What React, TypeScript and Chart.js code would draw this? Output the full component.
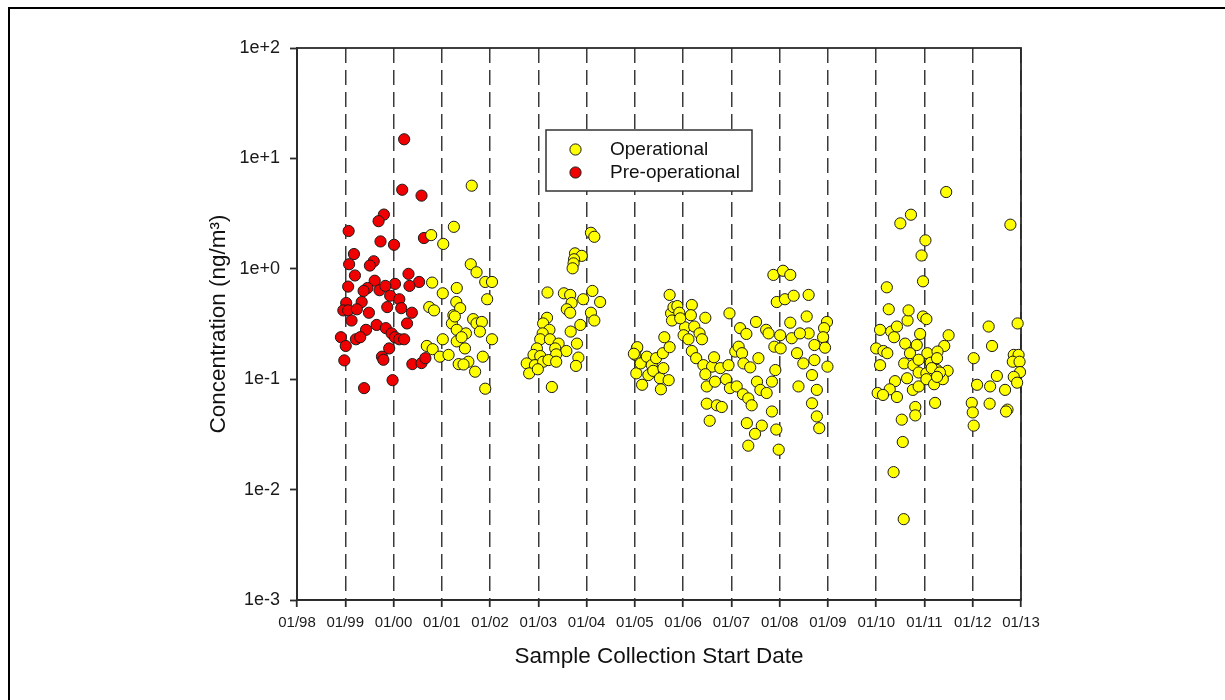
import React, { useEffect, useRef } from 'react';
import { Chart, registerables } from 'chart.js';

Chart.register(...registerables);

// ---- Data ----
const seriesNames = ['Operational', 'Pre-operational'];
const seriesColors = ['#FFFF00', '#F00000'];

const xTickYears = [1998, 1999, 2000, 2001, 2002, 2003, 2004, 2005, 2006, 2007, 2008, 2009, 2010, 2011, 2012, 2013];
const xTickLabels = ['01/98', '01/99', '01/00', '01/01', '01/02', '01/03', '01/04', '01/05', '01/06', '01/07', '01/08', '01/09', '01/10', '01/11', '01/12', '01/13'];
const yTickValues = [0.001, 0.01, 0.1, 1, 10, 100];
const yTickLabels = ['1e-3', '1e-2', '1e-1', '1e+0', '1e+1', '1e+2'];

// [sample collection start date (decimal year), concentration ng/m3]
const preOperationalPoints: [number, number][] = [
  [2000.22, 14.9], [2000.18, 5.2], [2000.58, 4.6], [1999.80, 3.1], [1999.69, 2.7],
  [1999.07, 2.2], [2000.63, 1.9], [1999.73, 1.77], [2000.01, 1.65], [1999.18, 1.36],
  [1999.08, 1.1], [1999.59, 1.17], [1999.51, 1.07], [2000.31, 0.9], [1999.20, 0.87],
  [2000.53, 0.76], [2000.03, 0.73], [1999.06, 0.69], [2000.33, 0.70], [1999.61, 0.78],
  [1999.46, 0.67], [1999.71, 0.64], [1999.83, 0.70], [1999.93, 0.57], [1999.38, 0.63],
  [2000.12, 0.53], [1999.02, 0.49], [1999.34, 0.50], [1998.96, 0.42], [1999.06, 0.42],
  [1999.24, 0.43], [1999.87, 0.45], [2000.16, 0.44], [2000.38, 0.40], [1999.49, 0.40],
  [1999.13, 0.34], [2000.28, 0.32], [1999.65, 0.31], [1999.84, 0.29], [1999.43, 0.28],
  [1998.91, 0.24], [1999.22, 0.23], [1999.31, 0.24], [1999.96, 0.26], [2000.03, 0.24],
  [2000.12, 0.23], [2000.22, 0.23], [1999.01, 0.20], [1999.91, 0.19], [1999.76, 0.16],
  [1999.79, 0.15], [1998.98, 0.148], [2000.39, 0.137], [2000.58, 0.14], [2000.66, 0.155],
  [1999.98, 0.098], [1999.39, 0.083],
];

const operationalPoints: [number, number][] = [
  // 2000-2002
  [2001.25, 2.40], [2000.78, 2.02], [2001.03, 1.68], [2000.80, 0.75], [2001.02, 0.60],
  [2001.31, 0.67], [2000.74, 0.45], [2000.84, 0.42], [2001.30, 0.50], [2001.24, 0.38],
  [2001.21, 0.32], [2001.31, 0.28], [2001.02, 0.23], [2000.69, 0.20], [2000.81, 0.187],
  [2000.96, 0.16], [2001.14, 0.166], [2001.31, 0.22], [2001.35, 0.137], [2001.62, 5.66],
  [2001.60, 1.10], [2001.72, 0.93], [2001.90, 0.76], [2002.04, 0.76], [2001.94, 0.53],
  [2001.38, 0.44], [2001.27, 0.37], [2001.65, 0.35], [2001.72, 0.32], [2001.83, 0.33],
  [2001.79, 0.27], [2001.50, 0.26], [2001.41, 0.24], [2002.04, 0.23], [2001.48, 0.19],
  [2001.85, 0.16], [2001.55, 0.144], [2001.45, 0.136], [2001.69, 0.117], [2001.90, 0.082],
  // 2002-2004
  [2003.19, 0.61], [2004.09, 2.12], [2004.16, 1.95], [2003.76, 1.38], [2003.90, 1.31],
  [2003.74, 1.22], [2003.73, 1.12], [2003.71, 1.01], [2003.53, 0.60], [2003.66, 0.58],
  [2004.12, 0.63], [2003.93, 0.53], [2004.28, 0.50], [2003.69, 0.49], [2003.59, 0.43],
  [2003.66, 0.40], [2004.09, 0.40], [2004.16, 0.34], [2003.87, 0.31], [2003.18, 0.36],
  [2003.10, 0.32], [2003.23, 0.28], [2003.67, 0.27], [2003.09, 0.26], [2003.04, 0.23],
  [2003.24, 0.23], [2003.42, 0.21], [2003.80, 0.21], [2003.35, 0.19], [2003.58, 0.18],
  [2002.97, 0.19], [2002.90, 0.166], [2003.04, 0.162], [2003.37, 0.168], [2003.83, 0.157],
  [2002.76, 0.139], [2002.93, 0.134], [2003.10, 0.144], [2003.21, 0.149], [2003.37, 0.144],
  [2003.78, 0.132], [2002.81, 0.113], [2002.99, 0.123], [2003.28, 0.085],
  // 2005-2009
  [2005.04, 0.19], [2005.01, 0.166], [2005.05, 0.195], [2004.98, 0.17], [2005.03, 0.113],
  [2005.15, 0.089], [2005.12, 0.139], [2005.25, 0.16], [2005.35, 0.134], [2005.44, 0.155],
  [2005.28, 0.109], [2005.38, 0.119], [2005.52, 0.102], [2005.54, 0.081], [2005.70, 0.098],
  [2005.59, 0.126], [2005.58, 0.172], [2005.72, 0.195], [2005.61, 0.24], [2005.72, 0.58],
  [2005.75, 0.395], [2005.80, 0.45], [2005.88, 0.46], [2005.77, 0.34], [2005.92, 0.40],
  [2006.04, 0.295], [2005.94, 0.356], [2006.18, 0.47], [2006.16, 0.38], [2006.01, 0.25],
  [2006.11, 0.23], [2006.18, 0.18], [2006.23, 0.30], [2006.34, 0.26], [2006.39, 0.23],
  [2006.46, 0.36], [2006.27, 0.155], [2006.42, 0.134], [2006.60, 0.13], [2006.64, 0.158],
  [2006.77, 0.126], [2006.46, 0.111], [2006.49, 0.086], [2006.66, 0.095], [2006.49, 0.060],
  [2006.70, 0.058], [2006.80, 0.056], [2006.55, 0.042], [2006.89, 0.10], [2006.97, 0.083],
  [2006.94, 0.134], [2006.96, 0.395], [2007.08, 0.178], [2007.15, 0.197], [2007.22, 0.172],
  [2007.18, 0.29], [2007.31, 0.257], [2007.25, 0.139], [2007.39, 0.128], [2007.11, 0.086],
  [2007.24, 0.073], [2007.35, 0.067], [2007.42, 0.058], [2007.51, 0.33], [2007.56, 0.155],
  [2007.53, 0.095], [2007.60, 0.080], [2007.73, 0.075], [2007.84, 0.051], [2007.63, 0.038],
  [2007.49, 0.032], [2007.32, 0.040], [2007.35, 0.025], [2007.72, 0.28], [2007.77, 0.26],
  [2007.89, 0.197], [2008.02, 0.19], [2007.91, 0.121], [2007.84, 0.095], [2007.93, 0.035],
  [2007.98, 0.023], [2007.87, 0.88], [2008.07, 0.96], [2008.22, 0.88], [2007.94, 0.50],
  [2008.11, 0.53], [2008.29, 0.57], [2008.60, 0.58], [2008.01, 0.25], [2008.22, 0.325],
  [2008.25, 0.235], [2008.56, 0.37], [2008.60, 0.26], [2008.36, 0.172], [2008.49, 0.139],
  [2008.67, 0.109], [2008.39, 0.086], [2008.77, 0.080], [2008.67, 0.0605], [2008.77, 0.046],
  [2008.42, 0.26], [2008.82, 0.036], [2008.98, 0.33], [2008.92, 0.29], [2008.90, 0.24],
  [2008.94, 0.193], [2008.72, 0.204], [2008.72, 0.149], [2008.99, 0.13],
  // 2010-2013
  [2010.22, 0.68], [2010.26, 0.43], [2010.08, 0.28], [2010.00, 0.19], [2010.08, 0.134],
  [2010.15, 0.18], [2010.23, 0.172], [2010.31, 0.27], [2010.43, 0.30], [2010.65, 0.34],
  [2010.67, 0.42], [2010.60, 0.21], [2010.84, 0.204], [2010.70, 0.172], [2010.58, 0.139],
  [2010.77, 0.134], [2010.88, 0.115], [2010.64, 0.102], [2010.39, 0.096], [2010.28, 0.081],
  [2010.03, 0.075], [2010.14, 0.072], [2010.43, 0.069], [2010.76, 0.080], [2010.88, 0.086],
  [2010.81, 0.056], [2010.81, 0.047], [2010.53, 0.043], [2010.55, 0.027], [2010.36, 0.0144],
  [2010.57, 0.0054], [2011.45, 4.96], [2010.50, 2.58], [2010.72, 3.09], [2011.02, 1.81],
  [2010.94, 1.32], [2010.97, 0.77], [2010.97, 0.37], [2011.04, 0.35], [2010.37, 0.24],
  [2010.91, 0.257], [2011.50, 0.25], [2011.41, 0.20], [2011.06, 0.172], [2011.27, 0.178],
  [2010.88, 0.15], [2011.13, 0.141], [2011.26, 0.155], [2011.04, 0.113], [2011.26, 0.121],
  [2011.48, 0.119], [2011.04, 0.10], [2011.20, 0.09], [2011.38, 0.10], [2011.22, 0.061],
  [2011.15, 0.126], [2011.32, 0.115], [2011.26, 0.105], [2012.02, 0.155], [2012.09, 0.089],
  [2011.98, 0.061], [2012.00, 0.050], [2012.02, 0.038], [2012.33, 0.30], [2012.40, 0.20],
  [2012.36, 0.086], [2012.35, 0.060], [2012.50, 0.107], [2012.67, 0.080], [2012.72, 0.053],
  [2012.69, 0.051], [2012.78, 2.51], [2012.93, 0.32], [2012.85, 0.166], [2012.95, 0.166],
  [2012.83, 0.144], [2012.97, 0.144], [2012.98, 0.116], [2012.85, 0.105], [2012.92, 0.093],
];

const FONT = 'Arial, "Liberation Sans", Helvetica, sans-serif';
const AXIS_COLOR = '#2a2a2a';

const framePlugin = {
  id: 'plotFrame',
  beforeDatasetsDraw(chart: any) {
    const { ctx, chartArea } = chart;
    ctx.save();
    ctx.strokeStyle = AXIS_COLOR;
    ctx.lineWidth = 1.8;
    ctx.setLineDash([]);
    ctx.strokeRect(chartArea.left, chartArea.top, chartArea.right - chartArea.left, chartArea.bottom - chartArea.top);
    ctx.restore();
  },
};

const legendPlugin = {
  id: 'boxLegend',
  afterDraw(chart: any) {
    const { ctx, chartArea } = chart;
    const left = chartArea.left + 249;
    const top = chartArea.top + 82;
    const w = 206;
    const h = 61;
    ctx.save();
    ctx.fillStyle = '#ffffff';
    ctx.fillRect(left, top, w, h);
    ctx.strokeStyle = '#333333';
    ctx.lineWidth = 1.5;
    ctx.setLineDash([]);
    ctx.strokeRect(left, top, w, h);
    chart.data.datasets.forEach((ds: any, i: number) => {
      const cy = top + 19.5 + i * 23;
      ctx.beginPath();
      ctx.arc(left + 29.5, cy, 5.6, 0, Math.PI * 2);
      ctx.fillStyle = ds.backgroundColor;
      ctx.fill();
      ctx.lineWidth = 1;
      ctx.strokeStyle = '#1a1a1a';
      ctx.stroke();
      ctx.fillStyle = '#111111';
      ctx.font = `19px ${FONT}`;
      ctx.textBaseline = 'middle';
      ctx.textAlign = 'left';
      ctx.fillText(ds.label, left + 64, cy + 0.5);
    });
    ctx.restore();
  },
};

export default function App() {
  const canvasRef = useRef<HTMLCanvasElement | null>(null);

  useEffect(() => {
    const canvas = canvasRef.current;
    if (!canvas) return;
    const chart = new Chart(canvas, {
      type: 'scatter',
      data: {
        datasets: [
          {
            label: seriesNames[0],
            data: operationalPoints.map(([x, y]) => ({ x, y })),
            backgroundColor: seriesColors[0],
            borderColor: '#1a1a1a',
            borderWidth: 1,
            pointRadius: 5.6,
            pointHoverRadius: 5.6,
            clip: false,
          },
          {
            label: seriesNames[1],
            data: preOperationalPoints.map(([x, y]) => ({ x, y })),
            backgroundColor: seriesColors[1],
            borderColor: '#1a1a1a',
            borderWidth: 1,
            pointRadius: 5.6,
            pointHoverRadius: 5.6,
            clip: false,
          },
        ],
      },
      options: {
        animation: false,
        responsive: false,
        devicePixelRatio: 1,
        events: [],
        layout: { padding: { left: 205, top: 48, right: 204, bottom: 30 } },
        plugins: {
          legend: { display: false },
          tooltip: { enabled: false },
          title: { display: false },
        },
        scales: {
          x: {
            type: 'linear',
            position: 'bottom',
            min: xTickYears[0],
            max: xTickYears[xTickYears.length - 1],
            afterBuildTicks: (scale: any) => {
              scale.ticks = xTickYears.map((v) => ({ value: v }));
            },
            afterFit: (scale: any) => {
              scale.height = 70;
            },
            ticks: {
              autoSkip: false,
              maxRotation: 0,
              minRotation: 0,
              padding: 7,
              color: '#1a1a1a',
              font: { family: FONT, size: 15 },
              callback: (_v: any, i: number) => xTickLabels[i],
            },
            grid: {
              display: true,
              drawOnChartArea: true,
              drawTicks: true,
              tickLength: 7,
              color: '#3a3a3a',
              lineWidth: 1.5,
              tickColor: AXIS_COLOR,
              tickWidth: 1.8,
              tickBorderDash: [],
            },
            border: { display: true, color: AXIS_COLOR, width: 1.8, dash: [15, 7] },
            title: {
              display: true,
              text: 'Sample Collection Start Date',
              color: '#111111',
              font: { family: FONT, size: 22.5 },
              padding: { top: 0, bottom: 0 },
            },
          },
          y: {
            type: 'logarithmic',
            position: 'left',
            min: yTickValues[0],
            max: yTickValues[yTickValues.length - 1],
            afterBuildTicks: (scale: any) => {
              scale.ticks = yTickValues.map((v) => ({ value: v }));
            },
            afterFit: (scale: any) => {
              scale.width = 92;
            },
            ticks: {
              autoSkip: false,
              padding: 10,
              color: '#1a1a1a',
              font: { family: FONT, size: 18 },
              callback: (_v: any, i: number) => yTickLabels[i],
            },
            grid: {
              display: true,
              drawOnChartArea: false,
              drawTicks: true,
              tickLength: 7,
              tickColor: AXIS_COLOR,
              tickWidth: 1.8,
              tickBorderDash: [],
            },
            border: { display: true, color: AXIS_COLOR, width: 1.8 },
            title: {
              display: true,
              text: 'Concentration (ng/m³)',
              color: '#111111',
              font: { family: FONT, size: 22.5 },
              padding: { top: 0, bottom: 0 },
            },
          },
        },
      },
      plugins: [framePlugin, legendPlugin],
    } as any);
    return () => chart.destroy();
  }, []);

  return (
    <div style={{ position: 'absolute', left: 0, top: 0, width: 1225, height: 700, overflow: 'hidden', background: '#ffffff' }}>
      <canvas ref={canvasRef} width={1225} height={700} style={{ position: 'absolute', left: 0, top: 0, width: 1225, height: 700 }} />
      <div
        style={{
          position: 'absolute',
          left: 8,
          top: 7,
          width: 1230,
          height: 700,
          borderTop: '2px solid #000',
          borderLeft: '2px solid #000',
          boxSizing: 'border-box',
          pointerEvents: 'none',
        }}
      />
    </div>
  );
}
